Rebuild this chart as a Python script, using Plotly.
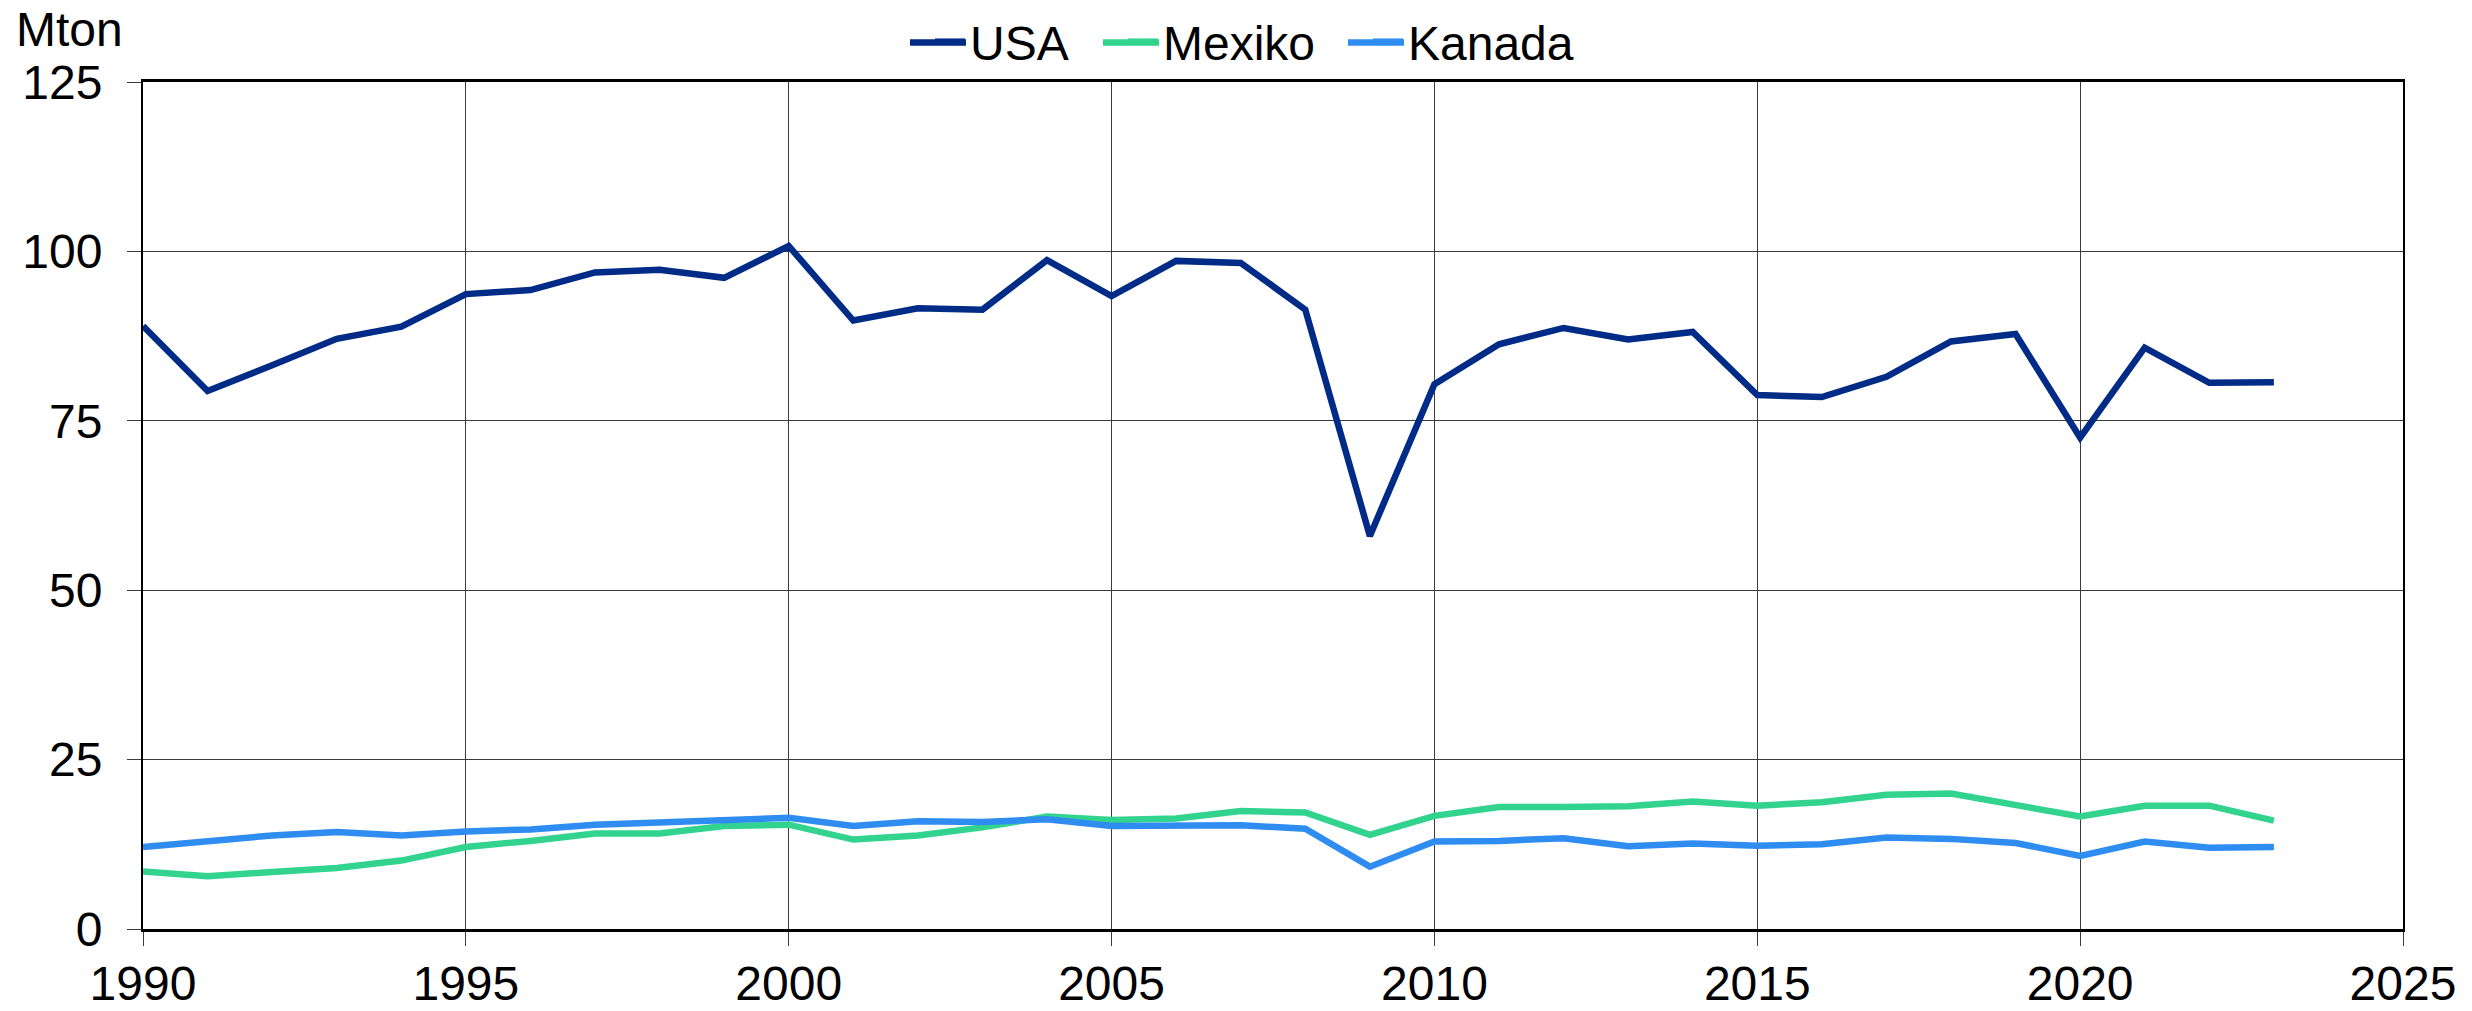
import plotly.graph_objects as go

years = list(range(1990, 2024))
usa = [89.0, 79.4, 83.2, 87.1, 88.9, 93.7, 94.3, 96.9, 97.3, 96.1,
       100.8, 89.8, 91.6, 91.4, 98.7, 93.4, 98.6, 98.3, 91.4, 58.0,
       80.4, 86.3, 88.7, 87.0, 88.1, 78.8, 78.5, 81.5, 86.7, 87.8,
       72.5, 85.8, 80.6, 80.7]
mexiko = [8.5, 7.8, 8.4, 9.0, 10.1, 12.1, 13.0, 14.1, 14.1, 15.2,
          15.4, 13.2, 13.8, 15.0, 16.6, 16.1, 16.3, 17.4, 17.2, 13.9,
          16.7, 18.0, 18.0, 18.1, 18.8, 18.2, 18.7, 19.8, 20.0, 18.3,
          16.6, 18.2, 18.2, 16.0]
kanada = [12.1, 12.9, 13.8, 14.3, 13.8, 14.4, 14.7, 15.4, 15.8, 16.0,
          16.4, 15.2, 15.9, 15.8, 16.2, 15.2, 15.3, 15.3, 14.8, 9.2,
          12.9, 13.0, 13.4, 12.2, 12.6, 12.3, 12.5, 13.5, 13.3, 12.7,
          10.8, 12.9, 12.0, 12.1]

series_names = ["USA", "Mexiko", "Kanada"]
series_colors = ["#002b87", "#31d38f", "#2f8cf0"]
series_values = [usa, mexiko, kanada]

x_ticks = [1990, 1995, 2000, 2005, 2010, 2015, 2020, 2025]
y_ticks = [0, 25, 50, 75, 100, 125]
y_unit = "Mton"

FONT = "Liberation Sans, Arial, sans-serif"
FS = 48

# body margin is removed by post_script, so figure fills the page
W, H = 2472, 1011
L, T = 143, 82
R = W - 2403
B = H - 929
pw = W - L - R
ph = H - T - B

# legend item text-start x positions (page px)
legend_text_x = [970, 1163, 1408]
legend_keys = ["legend", "legend2", "legend3"]
LEG_MID = 42  # page px of legend middle

fig = go.Figure()
for name, color, vals, lk in zip(series_names, series_colors, series_values, legend_keys):
    fig.add_trace(go.Scatter(x=years, y=vals, mode="lines", name=name, legend=lk,
                             line=dict(color=color, width=6.5)))

legend_common = dict(orientation="h", xanchor="left", yanchor="middle",
                     y=1 + (T - LEG_MID) / ph,
                     font=dict(family=FONT, size=FS, color="black"),
                     bgcolor="rgba(0,0,0,0)", itemwidth=30, borderwidth=0)
layout_legends = {}
for lk, tx in zip(legend_keys, legend_text_x):
    fx = tx - 40
    layout_legends[lk] = dict(legend_common, x=(fx - L) / pw)

fig.update_layout(
    width=W, height=H,
    margin=dict(l=L, r=R, t=T, b=B, pad=0, autoexpand=False),
    paper_bgcolor="white", plot_bgcolor="white",
    font=dict(family=FONT, size=FS, color="black"),
    showlegend=True,
    **layout_legends,
)

# lengthen legend sample lines to match reference key length
for color, tx in zip(series_colors, legend_text_x):
    yk = 1 + (T - (LEG_MID + 0.5)) / ph
    fig.add_shape(type="line", xref="paper", yref="paper",
                  x0=(tx - 60 - L) / pw, x1=(tx - 4 - L) / pw,
                  y0=yk, y1=yk,
                  line=dict(color=color, width=6.5), layer="above")

fig.update_xaxes(range=[1990, 2025], tickvals=x_ticks, ticktext=[str(v) for v in x_ticks],
                 showgrid=True, gridcolor="#3a3a3a", gridwidth=1,
                 showline=True, linecolor="black", linewidth=3, mirror=True,
                 ticks="outside", ticklen=14, tickwidth=1, tickcolor="#3a3a3a",
                 ticklabelstandoff=-4, zeroline=False, automargin=False,
                 tickfont=dict(family=FONT, size=FS, color="black"))
fig.update_yaxes(range=[0, 125], tickvals=y_ticks, ticktext=[str(v) for v in y_ticks],
                 showgrid=True, gridcolor="#3a3a3a", gridwidth=1,
                 showline=True, linecolor="black", linewidth=2, mirror=True,
                 ticks="outside", ticklen=14, tickwidth=1, tickcolor="#3a3a3a",
                 ticklabelstandoff=15, zeroline=False, automargin=False,
                 tickfont=dict(family=FONT, size=FS, color="black"))

fig.add_annotation(text=y_unit, xref="paper", yref="paper",
                   x=(14 - L) / pw, xanchor="left",
                   y=1 + 53 / ph, yanchor="middle",
                   showarrow=False, font=dict(family=FONT, size=FS, color="black"))

fig.write_html("out.html", config={"displayModeBar": False},
               post_script="document.body.style.margin='0px';document.body.style.overflow='hidden';")
